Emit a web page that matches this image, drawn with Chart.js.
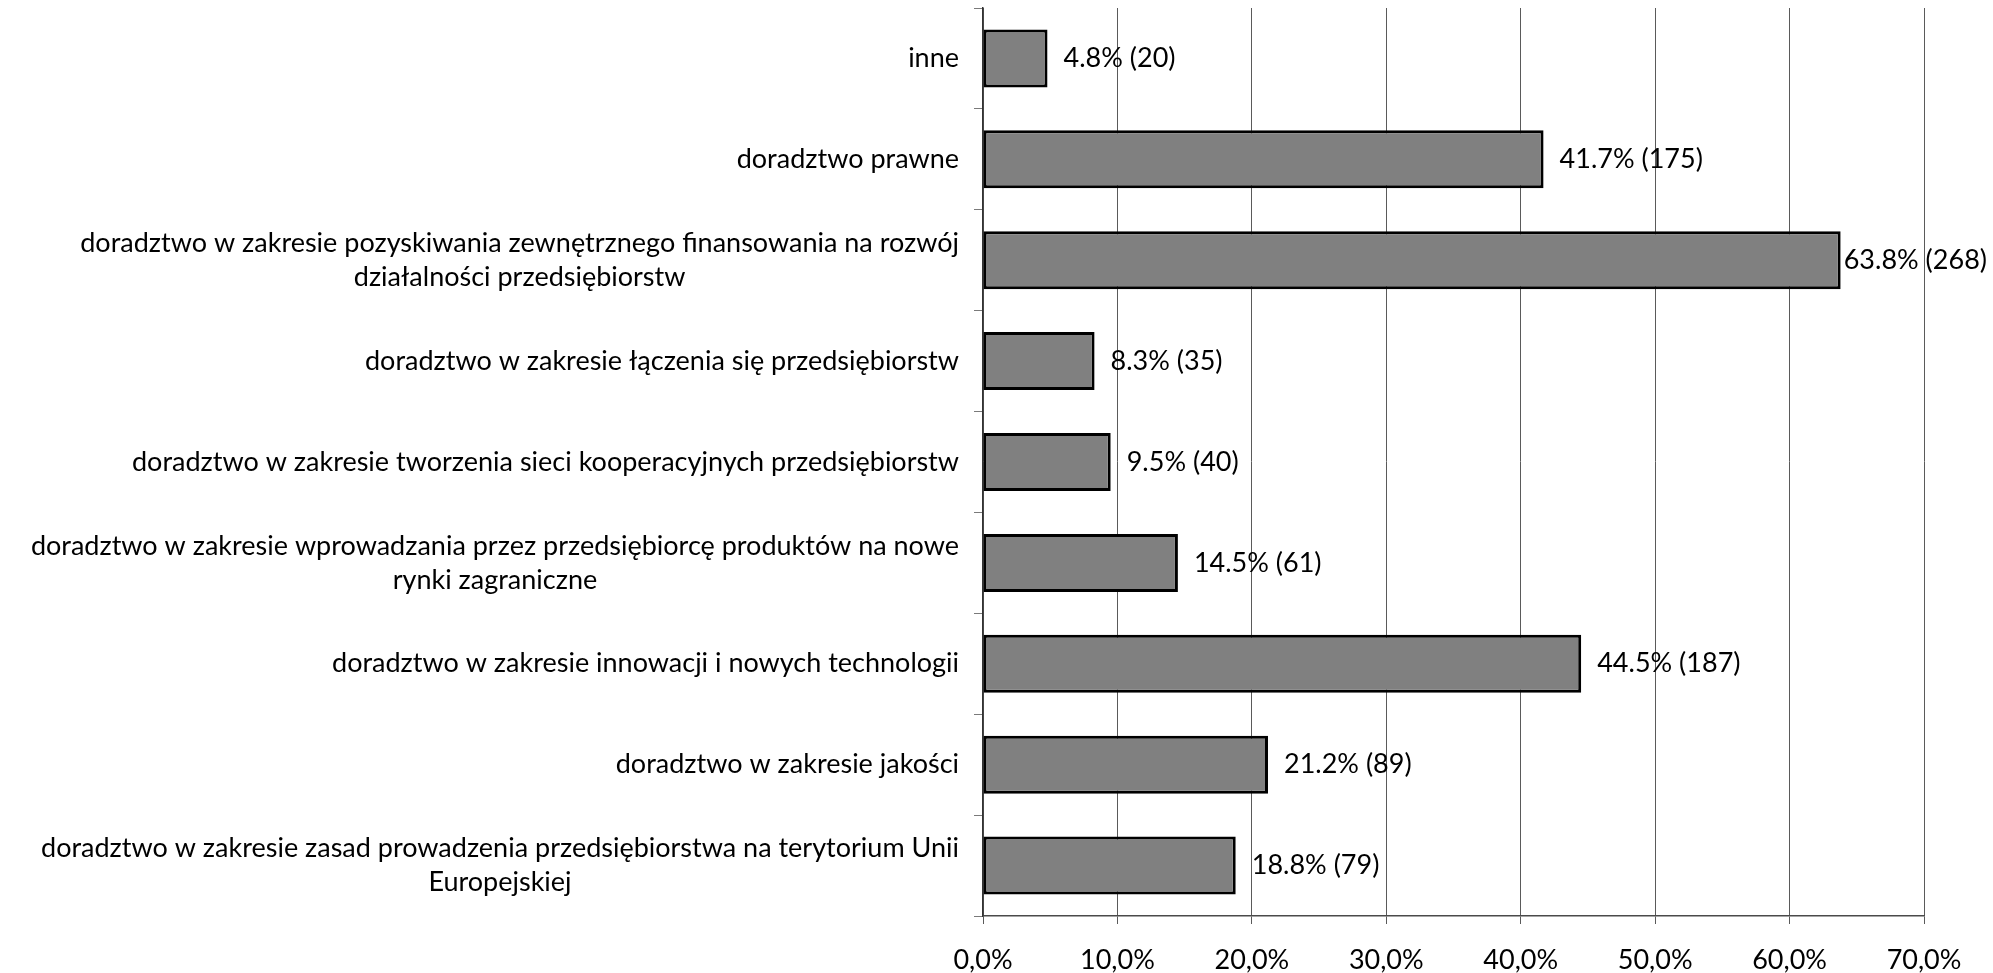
<!DOCTYPE html>
<html>
<head>
<meta charset="utf-8">
<script src="https://cdn.jsdelivr.net/npm/chart.js@4.4.0/dist/chart.umd.min.js"></script>
<style>
  html, body { margin: 0; padding: 0; background: #fff; }
  #wrap { width: 1993px; height: 973px; }
</style>
</head>
<body>
<div id="wrap"><canvas id="servicesChart"></canvas></div>
<script>
const categories = [
  'inne',
  'doradztwo prawne',
  ['doradztwo w zakresie pozyskiwania zewnętrznego finansowania na rozwój', 'działalności przedsiębiorstw'],
  'doradztwo w zakresie łączenia się przedsiębiorstw',
  'doradztwo w zakresie tworzenia sieci kooperacyjnych przedsiębiorstw',
  ['doradztwo w zakresie wprowadzania przez przedsiębiorcę produktów na nowe', 'rynki zagraniczne'],
  'doradztwo w zakresie innowacji i nowych technologii',
  'doradztwo w zakresie jakości',
  ['doradztwo w zakresie zasad prowadzenia przedsiębiorstwa na terytorium Unii', 'Europejskiej'],
];
const percents = [4.8, 41.7, 63.8, 8.3, 9.5, 14.5, 44.5, 21.2, 18.8];
const counts = [20, 175, 268, 35, 40, 61, 187, 89, 79];
const xTicks = [0, 10, 20, 30, 40, 50, 60, 70];

const FONT = 'Lato';
const FONT_SIZE = 27;

// category labels: right-aligned block, lines centred inside it (like Excel)
const categoryLabels = {
  id: 'categoryLabels',
  afterDraw(chart) {
    const { ctx } = chart;
    const yScale = chart.scales.y;
    const right = chart.chartArea.left - 24;
    ctx.save();
    ctx.font = `${FONT_SIZE}px ${FONT}`;
    ctx.fillStyle = '#000';
    ctx.textAlign = 'center';
    ctx.textBaseline = 'middle';
    categories.forEach((label, i) => {
      const lines = Array.isArray(label) ? label : [label];
      const w = Math.max(...lines.map((l) => ctx.measureText(l).width));
      const cx = right - w / 2;
      const cy = yScale.getPixelForValue(i);
      lines.forEach((line, j) => {
        ctx.fillText(line, cx, cy + (j - (lines.length - 1) / 2) * 34);
      });
    });
    ctx.restore();
  },
};

// value labels "41.7% (175)" after each bar
const valueLabels = {
  id: 'valueLabels',
  afterDatasetsDraw(chart) {
    const { ctx } = chart;
    const meta = chart.getDatasetMeta(0);
    ctx.save();
    ctx.font = `${FONT_SIZE}px ${FONT}`;
    ctx.fillStyle = '#000';
    ctx.textAlign = 'left';
    ctx.textBaseline = 'middle';
    meta.data.forEach((bar, i) => {
      const text = `${percents[i].toFixed(1)}% (${counts[i]})`;
      const w = ctx.measureText(text).width;
      const x = Math.min(bar.x + 16, chart.width - w - 6);
      ctx.fillText(text, x, bar.y);
    });
    ctx.restore();
  },
};

const ctx = document.getElementById('servicesChart').getContext('2d');

new Chart(ctx, {
  type: 'bar',
  data: {
    labels: categories,
    datasets: [{
      data: percents,
      backgroundColor: '#808080',
      borderColor: '#000000',
      borderWidth: 3,
      borderSkipped: false,
      barPercentage: 0.575,
      categoryPercentage: 1,
    }],
  },
  plugins: [categoryLabels, valueLabels],
  options: {
    indexAxis: 'y',
    responsive: true,
    maintainAspectRatio: false,
    animation: false,
    layout: {
      padding: { top: 8, right: 69, bottom: 0, left: 0 },
    },
    plugins: {
      legend: { display: false },
      tooltip: { enabled: false },
    },
    scales: {
      x: {
        min: 0,
        max: 70,
        afterBuildTicks: (scale) => {
          scale.ticks = xTicks.map((v) => ({ value: v }));
        },
        afterFit: (scale) => {
          scale.height = 57;
        },
        grid: {
          color: '#5a5a5a',
          lineWidth: 1,
          tickLength: 8,
        },
        border: { color: '#4a4a4a', width: 1.5 },
        ticks: {
          padding: 20,
          color: '#000',
          maxRotation: 0,
          font: { family: FONT, size: FONT_SIZE },
          callback: (value) => `${value.toFixed(1).replace('.', ',')}%`,
        },
      },
      y: {
        afterFit: (scale) => {
          scale.width = 983;
        },
        grid: {
          offset: true,
          drawOnChartArea: false,
          color: '#7a7a7a',
          tickLength: 9,
        },
        border: { color: '#333333', width: 1.5 },
        ticks: { display: false },
      },
    },
  },
});
</script>
</body>
</html>
